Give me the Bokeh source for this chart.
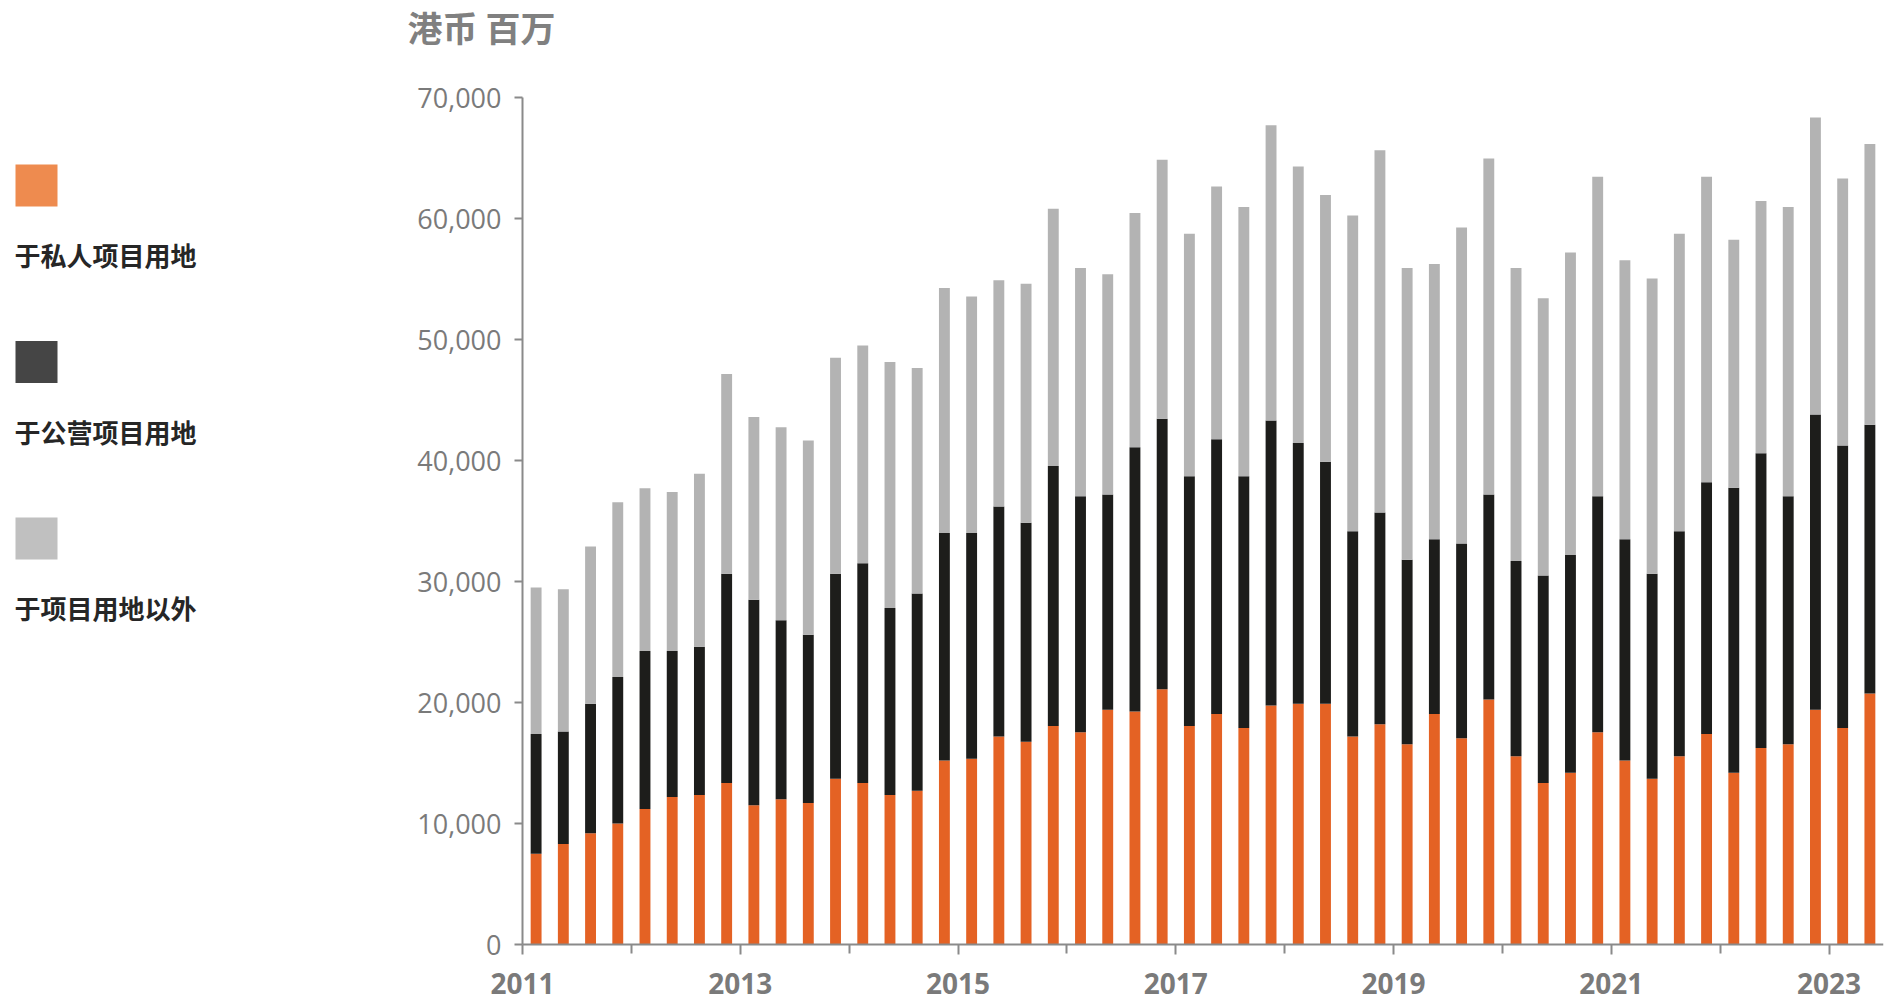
from bokeh.plotting import figure
from bokeh.models import ColumnDataSource, Range1d, FixedTicker, NumeralTickFormatter
from bokeh.layouts import row
from bokeh.embed import file_html
from bokeh.resources import INLINE
from bokeh.core.properties import value

# ---------------- data ----------------
years = list(range(2011, 2024))
quarters = [(y, q) for y in years for q in (1, 2, 3, 4)][:50]   # 2011Q1 .. 2023Q2

series_names = ["于私人项目用地", "于公营项目用地", "于项目用地以外"]

private = [7500, 8300, 9200, 10000, 11200, 12200, 12350, 13350,
           11500, 12000, 11700, 13700, 13350, 12350, 12700, 15200,
           15350, 17200, 16750, 18050, 17550, 19400, 19250, 21100,
           18050, 19050, 17900, 19750, 19900, 19900, 17200, 18200,
           16550, 19050, 17050, 20250, 15550, 13350, 14200, 17550,
           15200, 13700, 15550, 17400, 14200, 16250, 16550, 19400,
           17900, 20750]
public = [9900, 9300, 10700, 12100, 13050, 12050, 12250, 17300,
          17000, 14800, 13900, 16950, 18150, 15450, 16300, 18800,
          18650, 19000, 18100, 21500, 19500, 17800, 21850, 22350,
          20650, 22700, 20800, 23550, 21550, 20000, 16950, 17500,
          15250, 14450, 16100, 16950, 16150, 17150, 18000, 19500,
          18300, 16950, 18600, 20800, 23550, 24350, 20500, 24400,
          23350, 22200]
other = [12100, 11750, 13000, 14450, 13450, 13150, 14300, 16500,
         15100, 15950, 16050, 17850, 18000, 20350, 18650, 20250,
         19550, 18700, 19750, 21250, 18850, 18200, 19350, 21400,
         20050, 20900, 22250, 24400, 22850, 22050, 26100, 29950,
         24100, 22750, 26100, 27750, 24200, 22900, 25000, 26400,
         23050, 24400, 24600, 25250, 20500, 20850, 23900, 24550,
         22050, 23200]

year_ticks = [2011, 2013, 2015, 2017, 2019, 2021, 2023]
minor_year_ticks = [2012, 2014, 2016, 2018, 2020, 2022]
y_ticks = [0, 10000, 20000, 30000, 40000, 50000, 60000, 70000]
unit_title = "港币 百万"

bar_colors = ["#E46224", "#1D1D1B", "#B3B3B3"]
legend_colors = ["#EE8B4F", "#454545", "#C0C0C0"]

# ---------------- layout constants (page pixels) ----------------
LEG_W = 290          # legend panel width
H = 1002
AXIS_BOTTOM = 944    # where 0 sits
AXIS_TOP = 97        # where 70,000 sits
AXIS_LEFT = 522      # where the value axis sits
FRAME_LEFT = LEG_W + 110       # 400
FRAME_RIGHT = 1883
X0, X1 = 2011, 2023.5
Y0, Y1 = 0, 70000

px_per_year = (FRAME_RIGHT - AXIS_LEFT) / (X1 - X0)
units_per_px = (Y1 - Y0) / (AXIS_BOTTOM - AXIS_TOP)

# ---------------- main chart ----------------
x = [y + (q - 0.5) / 4 for (y, q) in quarters]
src = ColumnDataSource(dict(x=x, private=private, public=public, other=other))

p = figure(width=1897 - LEG_W - 6, height=H, output_backend="svg", toolbar_location=None,
           title=None,
           x_range=Range1d(X0 - (AXIS_LEFT - FRAME_LEFT) / px_per_year, X1),
           y_range=Range1d(Y0 - (H - AXIS_BOTTOM) * units_per_px, Y0 + AXIS_BOTTOM * units_per_px),
           min_border_left=FRAME_LEFT - LEG_W, min_border_right=8,
           min_border_top=0, min_border_bottom=0)
p.outline_line_color = None
p.xgrid.visible = False
p.ygrid.visible = False
p.background_fill_color = "white"
p.border_fill_color = "white"

p.vbar_stack(["private", "public", "other"], x="x", width=0.1, color=bar_colors,
             line_color=None, source=src)

AX = "#8A8A8A"
LBL = "#7A7A7A"
xa = p.xaxis[0]
xa.fixed_location = Y0
xa.bounds = (X0, X1)
xa.ticker = FixedTicker(ticks=year_ticks, minor_ticks=minor_year_ticks)
xa.axis_line_color = AX
xa.axis_line_width = 2
xa.major_tick_line_color = AX
xa.major_tick_line_width = 2
xa.major_tick_out = 10
xa.major_tick_in = 0
xa.minor_tick_line_color = AX
xa.minor_tick_line_width = 2
xa.minor_tick_out = 9
xa.minor_tick_in = 0
xa.major_label_text_font = "Open Sans"
xa.major_label_text_font_size = "28px"
xa.major_label_text_font_style = "bold"
xa.major_label_text_color = LBL
xa.major_label_standoff = 18

ya = p.yaxis[0]
ya.fixed_location = X0
ya.bounds = (Y0, Y1)
ya.ticker = FixedTicker(ticks=y_ticks)
ya.formatter = NumeralTickFormatter(format="0,0")
ya.axis_line_color = AX
ya.axis_line_width = 2
ya.major_tick_line_color = AX
ya.major_tick_line_width = 2
ya.major_tick_out = 8
ya.major_tick_in = 0
ya.minor_tick_line_color = None
ya.major_label_text_font = "Open Sans"
ya.major_label_text_font_size = "27px"
ya.major_label_text_color = LBL
ya.major_label_standoff = 13

# unit title (text glyph placed above the value axis)
title_src = ColumnDataSource(dict(
    x=[X0 - 115 / px_per_year],
    y=[Y0 + (AXIS_BOTTOM - 25.5) * units_per_px],
    text=[unit_title],
))
p.text(x="x", y="y", text="text", source=title_src, text_font=value("Noto Sans CJK SC"),
       text_font_size="35px", text_font_style="bold", text_color="#808080",
       text_baseline="middle", text_align="left")

# ---------------- legend panel (data units == page pixels) ----------------
lg = figure(width=LEG_W, height=H, output_backend="svg", toolbar_location=None,
            title=None,
            x_range=Range1d(0, LEG_W), y_range=Range1d(H, 0),
            x_axis_type=None, y_axis_type=None,
            min_border_left=0, min_border_right=0, min_border_top=0, min_border_bottom=0)
lg.outline_line_color = None
lg.xgrid.visible = False
lg.ygrid.visible = False

n = len(series_names)
top0, step, size = 164, 176.5, 42
leg_src = ColumnDataSource(dict(
    left=[15] * n, right=[15 + size] * n,
    top=[top0 + i * step for i in range(n)],
    bottom=[top0 + i * step + size for i in range(n)],
    color=legend_colors,
    tx=[14] * n, ty=[top0 + i * step + 90 for i in range(n)],
    name=series_names,
))
lg.quad(left="left", right="right", top="top", bottom="bottom", color="color",
        line_color=None, source=leg_src)
lg.text(x="tx", y="ty", text="name", source=leg_src, text_font=value("Noto Sans CJK SC"),
        text_font_size="26px", text_font_style="bold", text_color="#262626",
        text_baseline="middle", text_align="left")

layout = row(lg, p)
open("out.html", "w").write(file_html(layout, INLINE))
